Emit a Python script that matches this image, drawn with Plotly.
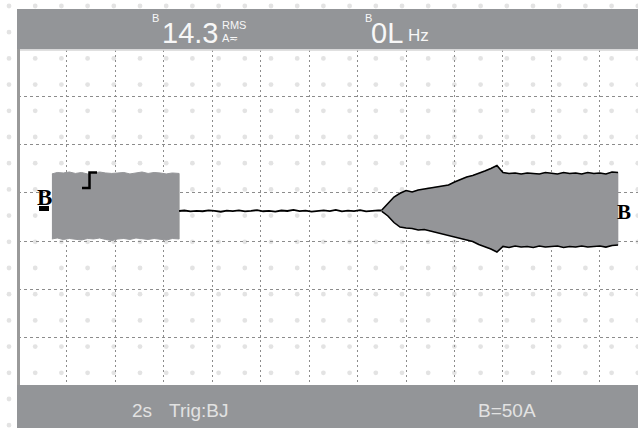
import plotly.graph_objects as go

# ---------------- data (time in s, current in A) ----------------
burst_t = [1.38, 1.6, 1.85, 2.1, 2.35, 2.6, 2.85, 3.1, 3.35, 3.6, 3.85, 4.1, 4.35,
           4.6, 4.85, 5.1, 5.35, 5.6, 5.85, 6.1, 6.35, 6.63]
burst_max = [35.4, 36.9, 36.4, 37.4, 35.9, 36.9, 35.4, 36.4, 37.4, 36.4, 35.9, 36.4,
             36.9, 35.4, 36.4, 37.4, 35.9, 36.9, 36.4, 35.4, 36.4, 35.9]
burst_min = [-32.2, -31.2, -32.7, -31.7, -32.2, -33.3, -31.7, -32.2, -31.2, -32.7,
             -33.8, -32.2, -31.7, -32.7, -31.2, -32.2, -32.7, -31.7, -32.2, -33.3,
             -31.7, -32.2]

idle_t = [6.63, 6.85, 7.1, 7.35, 7.6, 7.85, 8.1, 8.35, 8.6, 8.85, 9.1, 9.35, 9.6,
          9.85, 10.1, 10.35, 10.6, 10.85, 11.1, 11.35, 11.6, 11.85, 12.1, 12.35,
          12.6, 12.85, 13.1, 13.35, 13.6, 13.85, 14.1, 14.35, 14.6, 14.85, 15.0]
idle_val = [-3.1, -2.6, -3.6, -2.9, -3.4, -2.4, -3.1, -3.9, -2.8, -3.3, -2.5, -3.6,
            -3.0, -2.2, -3.4, -2.9, -3.7, -2.6, -3.1, -2.0, -3.3, -2.7, -3.8, -2.9,
            -2.4, -3.2, -1.9, -3.5, -2.8, -3.3, -2.3, -3.6, -2.9, -2.5, -2.6]

ramp_t = [15.0, 15.25, 15.5, 15.75, 16.0, 16.25, 16.5, 16.75, 17.0, 17.25, 17.5,
          17.75, 18.0, 18.25, 18.5, 18.75, 19.0, 19.25, 19.5, 19.75, 20.0, 20.25,
          20.5, 20.75, 21.0, 21.25, 21.5, 21.75, 22.0, 22.25, 22.5, 22.75, 23.0,
          23.25, 23.5, 23.75, 24.0, 24.25, 24.5, 24.75]
ramp_max = [-2.1, 4.2, 11.4, 15.3, 18.2, 16.6, 18.7, 19.8, 20.8, 21.3, 22.9, 23.9,
            27.0, 29.6, 32.2, 33.8, 35.9, 38.5, 41.1, 44.2, 36.9, 35.9, 36.4, 35.4,
            36.4, 35.9, 35.4, 36.9, 35.9, 35.4, 36.9, 35.9, 36.4, 35.4, 36.9, 35.9,
            36.4, 35.4, 37.4, 36.9]
ramp_min = [-3.6, -8.3, -15.1, -19.8, -20.8, -21.3, -22.9, -22.4, -23.9, -25.5,
            -26.5, -28.1, -29.6, -31.2, -33.3, -34.8, -38.0, -40.0, -42.6, -45.8,
            -40.0, -41.1, -39.5, -40.6, -40.0, -41.1, -39.5, -40.6, -40.0, -39.5,
            -41.1, -40.0, -40.6, -39.5, -40.6, -40.0, -39.5, -40.6, -39.0, -38.5]

readout_main = ["14.3", "0L"]
readout_units = ["RMS", "A≂", "Hz"]
footer = ["2s", "Trig:BJ", "B=50A"]

# ---------------- geometry ----------------
W, H = 638, 428
PL, PR, PT, PB = 18, 638, 50, 386
BAR = "#939598"
TRACE = "#949598"


def px(x):
    return (x - PL) / (PR - PL)


def py(y):
    return (PB - y) / (PB - PT)


fig = go.Figure()

# burst block
fig.add_trace(go.Scatter(
    x=burst_t + burst_t[::-1], y=burst_max + burst_min[::-1],
    fill="toself", fillcolor=TRACE, mode="lines",
    line=dict(color=TRACE, width=1), hoverinfo="skip", showlegend=False))

# idle line
fig.add_trace(go.Scatter(
    x=idle_t, y=idle_val, mode="lines",
    line=dict(color="black", width=1.8), hoverinfo="skip", showlegend=False))

# ramp envelope
fig.add_trace(go.Scatter(
    x=ramp_t + ramp_t[::-1], y=ramp_max + ramp_min[::-1],
    fill="toself", fillcolor=TRACE, mode="lines",
    line=dict(color=TRACE, width=0.5), hoverinfo="skip", showlegend=False))
fig.add_trace(go.Scatter(
    x=ramp_t, y=ramp_max, mode="lines",
    line=dict(color="black", width=1.6), hoverinfo="skip", showlegend=False))
fig.add_trace(go.Scatter(
    x=ramp_t, y=ramp_min, mode="lines",
    line=dict(color="black", width=1.6), hoverinfo="skip", showlegend=False))

shapes = []
# background dot pattern
for i in range(25):
    for j in range(17):
        cx, cy = 9 + 26.2 * i, 6 + 26.2 * j
        shapes.append(dict(type="circle", xref="paper", yref="paper",
                           x0=px(cx - 2.4), x1=px(cx + 2.4),
                           y0=py(cy + 2.4), y1=py(cy - 2.4),
                           fillcolor="#e3e3e3", line=dict(width=0), layer="below"))
# bars
shapes.append(dict(type="rect", xref="paper", yref="paper", x0=px(17), x1=px(640),
                   y0=py(49.3), y1=py(9), fillcolor=BAR, line=dict(width=0), layer="above"))
shapes.append(dict(type="rect", xref="paper", yref="paper", x0=px(17), x1=px(640),
                   y0=py(430), y1=py(385), fillcolor=BAR, line=dict(width=0), layer="above"))
# left frame
shapes.append(dict(type="rect", xref="paper", yref="paper", x0=px(17), x1=px(20),
                   y0=py(385), y1=py(49), fillcolor="#9a9a9a", line=dict(width=0), layer="above"))
# thin light line under top bar
shapes.append(dict(type="line", xref="paper", yref="paper", x0=px(20), x1=px(640),
                   y0=py(50), y1=py(50), line=dict(color="#d6d6d6", width=1.5), layer="above"))
# channel zero marker underline
shapes.append(dict(type="rect", xref="paper", yref="paper", x0=px(39), x1=px(49),
                   y0=py(211), y1=py(206), fillcolor="black", line=dict(width=0), layer="above"))
# trigger marker
shapes.append(dict(type="path", xref="paper", yref="paper",
                   path=f"M {px(82)},{py(188)} L {px(89.5)},{py(188)} L {px(89.5)},{py(172.5)} L {px(97)},{py(172.5)}",
                   line=dict(color="black", width=2.5), layer="above"))

ann = []


def txt(t, x, ymid, size, color, family="Liberation Sans"):
    ann.append(dict(text=t, x=px(x), y=py(ymid), xref="paper", yref="paper",
                    xanchor="left", yanchor="middle", showarrow=False,
                    borderpad=0, borderwidth=0,
                    font=dict(size=size, color=color, family=family)))


WH = "#f7f7f7"
NARROW = "Liberation Sans Narrow, Liberation Sans, Arial"
txt("B", 152, 18, 11, WH)
txt(readout_main[0], 162, 32.5, 29, WH, NARROW)
txt(readout_units[0], 222, 25, 11, WH)
txt(readout_units[1], 222, 37.5, 11, WH)
txt("B", 365, 18, 11, WH)
txt(readout_main[1], 371, 32.5, 29, WH, NARROW)
txt(readout_units[2], 408, 36, 17, WH)

FG = "#e2e2e2"
txt(footer[0], 132, 410, 19, FG)
txt(footer[1], 169, 410, 19, FG)
txt(footer[2], 478, 410, 19, FG)

txt("<b>B</b>", 37, 197, 23, "black", "Liberation Serif")
txt("<b>B</b>", 617, 211.5, 21, "black", "Liberation Serif")

x0 = -0.02
fig.update_layout(
    width=W, height=H,
    margin=dict(l=PL, r=W - PR, t=PT, b=H - PB, pad=0),
    paper_bgcolor="white", plot_bgcolor="rgba(0,0,0,0)",
    shapes=shapes, annotations=ann, showlegend=False,
    xaxis=dict(range=[x0, x0 + (PR - PL) / 24.225], tick0=0, dtick=2,
               showgrid=True, gridcolor="#8c8c8c", gridwidth=1, griddash="2px,3px",
               showticklabels=False, zeroline=False, showline=False, ticks=""),
    yaxis=dict(range=[-185.0, 164.2], tick0=15.6, dtick=50,
               showgrid=True, gridcolor="#8c8c8c", gridwidth=1, griddash="3px,3px",
               showticklabels=False, zeroline=False, showline=False, ticks=""),
)

fig.write_html(
    "out.html",
    config={"displayModeBar": False, "staticPlot": True},
    post_script="document.body.style.margin='0';document.body.style.overflow='hidden';",
)
